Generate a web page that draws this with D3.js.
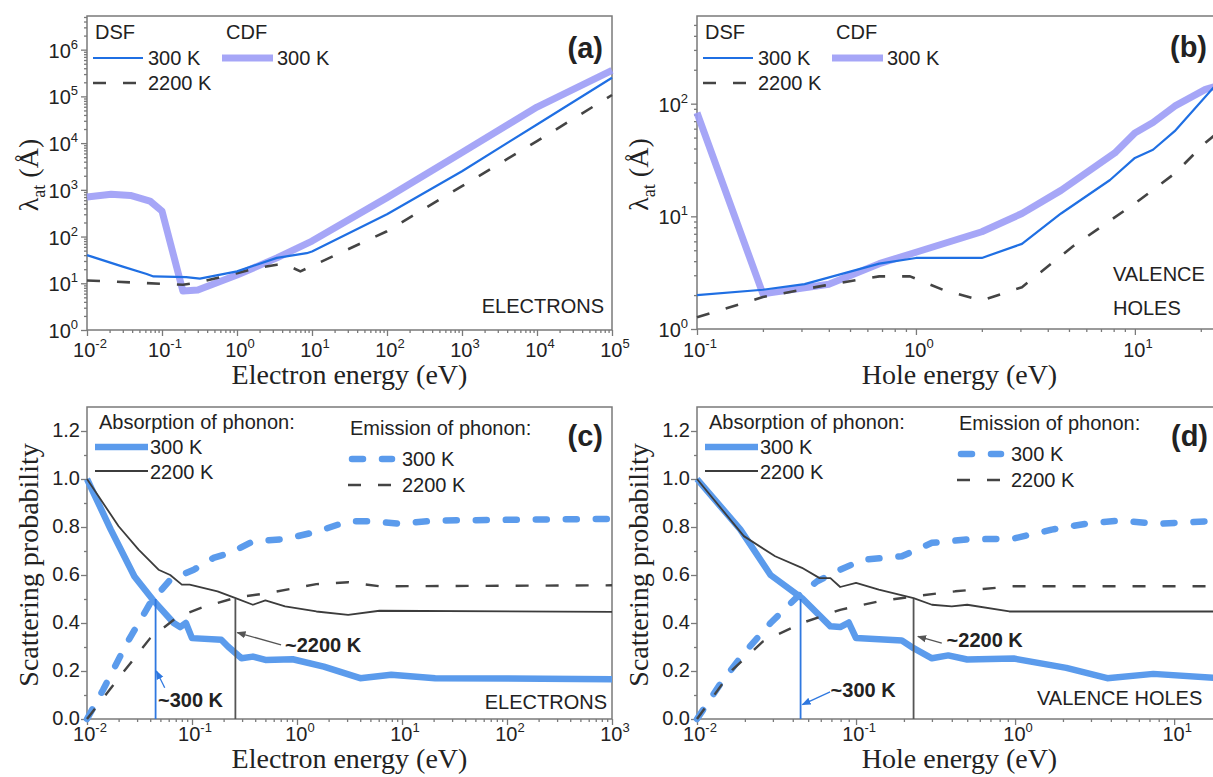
<!DOCTYPE html>
<meta charset="utf-8">
<head>
<style>
  body { margin: 0; background: #fff; }
  text { font-family: "Liberation Sans", Arial, sans-serif; fill: #222; }
  .serif { font-family: "Liberation Serif", "Times New Roman", serif; }
  .frame { fill: none; stroke: #7a7a7a; stroke-width: 1.5; }
  .axis path { display: none; }
  .axis line { stroke: #7a7a7a; stroke-width: 1.3; }
</style>
<title>Mean free paths and scattering probabilities</title>
</head>
<body>
<script src="https://cdn.jsdelivr.net/npm/d3@7"></script>
<script>
// ---------- data (energy in eV) ----------
// (a) electrons, attenuation length lambda_at (A)
const elecDsf300 = [[0.01,40],[0.03,22.7],[0.0625,15.8],[0.077,14],[0.21,13.6],[0.32,12.6],[1,18],[3.4,35],[8.5,44],[10,48],[100,300],[1000,2500],[1e4,2.5e4],[1e5,2.5e5]];
const elecCdf300 = [[0.01,700],[0.021,800],[0.038,760],[0.069,575],[0.1,350],[0.19,6.8],[0.3,7.2],[1,15],[3.4,35],[10,80],[100,680],[1000,6300],[1e4,5.9e4],[1e5,3.6e5]];
const elecDsf2200 = [[0.01,11.5],[0.19,9.3],[0.3,10.3],[1,16.5],[1.8,21],[3.4,25],[4.3,26],[7,18],[100,130],[1000,1200],[1e4,1.1e4],[1e5,1.07e5]];

// (b) valence holes
const holeDsf300 = [[0.1,2.0],[0.2,2.23],[0.31,2.5],[0.68,3.8],[1,4.27],[2,4.27],[3.05,5.7],[4.6,10.6],[7.7,21],[10,33],[12.1,39],[15.2,57],[23,141]];
const holeCdf300 = [[0.1,83],[0.2,2.05],[0.4,2.5],[0.68,3.8],[1,4.8],[2,7.3],[3.05,10.6],[4.6,17],[8.1,36.5],[10,55],[12.1,68],[15.2,95],[21,134],[23,141]];
const holeDsf2200 = [[0.1,1.27],[0.2,1.92],[0.385,2.44],[0.68,2.93],[0.94,2.93],[1.35,2.2],[2,1.79],[3.05,2.35],[5.2,5.4],[10,13],[15.2,24],[21,45],[23,52]];

// (c) electrons, scattering probability
const elecAbs300 = [[0.01,1.0],[0.0168,0.79],[0.0283,0.594],[0.0437,0.49],[0.067,0.40],[0.077,0.383],[0.0875,0.40],[0.1,0.337],[0.19,0.33],[0.22,0.302],[0.296,0.253],[0.38,0.26],[0.5,0.246],[0.91,0.249],[1.8,0.218],[4.0,0.17],[7.9,0.184],[20.7,0.17],[1000,0.166]];
const elecAbs2200 = [[0.01,1.0],[0.02,0.803],[0.031,0.706],[0.048,0.622],[0.062,0.60],[0.08,0.56],[0.095,0.56],[0.175,0.532],[0.26,0.504],[0.38,0.476],[0.5,0.494],[0.77,0.469],[1.53,0.448],[3.07,0.434],[6.1,0.451],[1000,0.446]];
const elecEm300 = [[0.01,0],[0.0142,0.121],[0.024,0.316],[0.04,0.483],[0.062,0.58],[0.104,0.622],[0.16,0.671],[0.23,0.692],[0.38,0.74],[0.77,0.75],[1.53,0.78],[3.07,0.824],[5.2,0.824],[9.5,0.814],[20.7,0.827],[1000,0.834]];
const elecEm2200 = [[0.01,0],[0.02,0.17],[0.04,0.337],[0.0736,0.427],[0.135,0.47],[0.27,0.507],[0.54,0.525],[1.53,0.562],[3.07,0.57],[6.1,0.553],[1000,0.557]];

// (d) valence holes, scattering probability
const holeAbs300 = [[0.01,1.0],[0.0187,0.79],[0.029,0.60],[0.0457,0.504],[0.069,0.386],[0.0795,0.383],[0.09,0.402],[0.1,0.337],[0.194,0.327],[0.23,0.295],[0.30,0.253],[0.38,0.265],[0.5,0.248],[0.98,0.252],[2.1,0.213],[3.8,0.17],[7.4,0.188],[20,0.17]];
const holeAbs2200 = [[0.01,1.0],[0.0197,0.762],[0.031,0.678],[0.0457,0.63],[0.059,0.587],[0.069,0.587],[0.0795,0.55],[0.1,0.567],[0.139,0.539],[0.23,0.504],[0.30,0.476],[0.40,0.469],[0.5,0.476],[0.92,0.448],[20,0.448]];
const holeEm300 = [[0.01,0],[0.0141,0.149],[0.0197,0.274],[0.029,0.40],[0.043,0.511],[0.057,0.574],[0.0795,0.622],[0.111,0.664],[0.194,0.678],[0.30,0.734],[0.5,0.748],[0.98,0.752],[1.7,0.789],[3.0,0.817],[4.66,0.827],[7.7,0.813],[20,0.827]];
const holeEm2200 = [[0.01,0],[0.0167,0.205],[0.026,0.323],[0.0457,0.40],[0.0795,0.455],[0.139,0.49],[0.23,0.511],[0.42,0.532],[0.98,0.553],[3.0,0.553],[20,0.553]];

// crossing energies marked by the vertical lines
const elecCross = { t300: 0.045, t2200: 0.259, p: 0.5 };
const holeCross = { t300: 0.0448, t2200: 0.23, p: 0.5 };

// tick values
const ticksXa = [1e-2,1e-1,1e0,1e1,1e2,1e3,1e4,1e5];
const ticksYa = [1e0,1e1,1e2,1e3,1e4,1e5,1e6];
const ticksXb = [1e-1,1e0,1e1];
const ticksYb = [1e0,1e1,1e2];
const ticksXc = [1e-2,1e-1,1e0,1e1,1e2,1e3];
const ticksXd = [1e-2,1e-1,1e0,1e1];
const ticksP = [0,0.2,0.4,0.6,0.8,1.0,1.2];
const minorP = [0.1,0.3,0.5,0.7,0.9,1.1];

// ---------- styles ----------
const st = {
  dsf:   { stroke: '#1f6fe3', width: 2.2 },
  cdf:   { stroke: '#9c9cf6', width: 7, opacity: 0.9 },
  hot:   { stroke: '#444', width: 2.6, dash: '13,17' },
  abs300:{ stroke: '#5b9bec', width: 6.5 },
  abs2200:{ stroke: '#3c3c3c', width: 1.8 },
  em300: { stroke: '#5b9bec', width: 6.5, dash: '11,19', cap: 'round' },
  em2200:{ stroke: '#444', width: 2.4, dash: '13,17' }
};

const svg = d3.select('body').append('svg').attr('width', 1213).attr('height', 777);
svg.append('defs').selectAll('marker')
  .data([['arrBlue','#2f78e0'],['arrGray','#555']])
  .join('marker')
    .attr('id', d => d[0])
    .attr('viewBox','0 0 10 10').attr('refX',9).attr('refY',5)
    .attr('markerWidth',7).attr('markerHeight',7).attr('orient','auto')
  .append('path').attr('d','M0,1 L10,5 L0,9 Z').attr('fill', d => d[1]);

function minorLog(domain) {
  const out = [];
  const lo = Math.floor(Math.log10(domain[0])), hi = Math.ceil(Math.log10(domain[1]));
  for (let e = lo; e <= hi; e++)
    for (let k = 2; k < 10; k++) {
      const v = k * Math.pow(10, e);
      if (v > domain[0] && v < domain[1]) out.push(v);
    }
  return out;
}

function powLabel(g, x, y, v, anchor) {
  const t = g.append('text').attr('x', x).attr('y', y)
    .attr('text-anchor', anchor).style('font-size', '20px').attr('fill', '#333');
  t.append('tspan').text('10');
  t.append('tspan').attr('dy', -9).style('font-size', '13px').text(Math.round(Math.log10(v)));
}

function addLine(g, x, y, data, s) {
  g.append('path')
    .datum(data)
    .attr('fill', 'none')
    .attr('stroke', s.stroke)
    .attr('stroke-width', s.width)
    .attr('stroke-opacity', s.opacity || 1)
    .attr('stroke-dasharray', s.dash || null)
    .attr('stroke-linecap', s.cap || 'butt')
    .attr('stroke-linejoin', 'round')
    .attr('d', d3.line().x(d => x(d[0])).y(d => y(d[1])));
}

function legendLine(g, x1, x2, yy, s) {
  g.append('line').attr('x1', x1).attr('x2', x2).attr('y1', yy).attr('y2', yy)
    .attr('stroke', s.stroke).attr('stroke-width', s.width)
    .attr('stroke-opacity', s.opacity || 1)
    .attr('stroke-dasharray', s.dash || null)
    .attr('stroke-linecap', s.cap || 'butt');
}

function text(g, x, y, str, size, opts) {
  opts = opts || {};
  return g.append('text').attr('x', x).attr('y', y).text(str)
    .style('font-size', size + 'px')
    .attr('text-anchor', opts.anchor || 'start')
    .style('font-weight', opts.bold ? 'bold' : null)
    .attr('fill', opts.fill || '#222');
}

function makePanel(p) {
  const g = svg.append('g');
  const x = d3.scaleLog().domain(p.xDomain).range([p.left, p.right]);
  const y = (p.yLog ? d3.scaleLog() : d3.scaleLinear()).domain(p.yDomain).range([p.bottom, p.top]);

  // ticks
  g.append('g').attr('class', 'axis').attr('transform', `translate(0,${p.bottom})`)
    .call(d3.axisBottom(x).tickValues(p.xTicks).tickSize(6).tickFormat(''));
  g.append('g').attr('class', 'axis').attr('transform', `translate(0,${p.bottom})`)
    .call(d3.axisBottom(x).tickValues(minorLog(p.xDomain)).tickSize(3).tickFormat(''));
  g.append('g').attr('class', 'axis').attr('transform', `translate(${p.left},0)`)
    .call(d3.axisLeft(y).tickValues(p.yTicks).tickSize(6).tickFormat(''));
  g.append('g').attr('class', 'axis').attr('transform', `translate(${p.left},0)`)
    .call(d3.axisLeft(y).tickValues(p.yLog ? minorLog(p.yDomain) : minorP).tickSize(3).tickFormat(''));

  p.xTicks.forEach(v => powLabel(g, x(v) + 3, p.xLabelY, v, 'middle'));
  if (p.yLog) p.yTicks.forEach(v => powLabel(g, p.left - 9, y(v) + 8, v, 'end'));
  else p.yTicks.forEach(v => text(g, p.left - 7, y(v) + 6, d3.format('.1f')(v), 20, { anchor: 'end', fill: '#333' }));

  g.append('rect').attr('class', 'frame')
    .attr('x', p.left).attr('y', p.top)
    .attr('width', p.right - p.left).attr('height', p.bottom - p.top);

  // axis titles
  g.append('text').attr('class', 'serif')
    .attr('x', (p.left + p.right) / 2).attr('y', p.titleY)
    .attr('text-anchor', 'middle').style('font-size', '28px').text(p.xTitle);
  const yt = g.append('text').attr('class', 'serif')
    .attr('transform', `translate(${p.left - 49},${(p.top + p.bottom) / 2 + 2}) rotate(-90)`)
    .attr('text-anchor', 'middle').style('font-size', '28px');
  if (p.yLog) {
    yt.append('tspan').text('\u03bb');
    yt.append('tspan').attr('dy', 7).style('font-size', '18px').text('at');
    yt.append('tspan').attr('dy', -7).text(' (\u00c5)');
  } else yt.text('Scattering probability');

  return { g, x, y };
}

// ---------- panel (a) ----------
{
  const p = { left: 87, right: 612, top: 16, bottom: 330, xDomain: [1e-2, 1e5], yDomain: [1, 5.25e6], yLog: true,
    xTicks: ticksXa, yTicks: ticksYa, xLabelY: 357, titleY: 384, xTitle: 'Electron energy (eV)' };
  const { g, x, y } = makePanel(p);
  addLine(g, x, y, elecCdf300, st.cdf);
  addLine(g, x, y, elecDsf2200, st.hot);
  addLine(g, x, y, elecDsf300, st.dsf);
  text(g, 95, 39, 'DSF', 20);
  legendLine(g, 93, 143, 58, st.dsf); text(g, 148, 65, '300 K', 20);
  legendLine(g, 93, 143, 83, st.hot); text(g, 148, 90, '2200 K', 20);
  text(g, 226, 39, 'CDF', 20);
  legendLine(g, 222, 273, 58, st.cdf); text(g, 277, 65, '300 K', 20);
  text(g, 603, 58, '(a)', 29, { anchor: 'end', bold: true });
  text(g, 604, 313, 'ELECTRONS', 20, { anchor: 'end' });
}

// ---------- panel (b) ----------
{
  const p = { left: 697, right: 1222, top: 16, bottom: 329, xDomain: [0.1, 25], yDomain: [1, 600], yLog: true,
    xTicks: ticksXb, yTicks: ticksYb, xLabelY: 357, titleY: 384, xTitle: 'Hole energy (eV)' };
  const { g, x, y } = makePanel(p);
  addLine(g, x, y, holeCdf300, st.cdf);
  addLine(g, x, y, holeDsf2200, st.hot);
  addLine(g, x, y, holeDsf300, st.dsf);
  const L = p.left;
  text(g, L + 8, 39, 'DSF', 20);
  legendLine(g, L + 6, L + 56, 58, st.dsf); text(g, L + 61, 65, '300 K', 20);
  legendLine(g, L + 6, L + 56, 83, st.hot); text(g, L + 61, 90, '2200 K', 20);
  text(g, L + 139, 39, 'CDF', 20);
  legendLine(g, L + 135, L + 186, 58, st.cdf); text(g, L + 190, 65, '300 K', 20);
  text(g, 1170, 57, '(b)', 29, { bold: true });
  text(g, 1113, 281, 'VALENCE', 20);
  text(g, 1113, 315, 'HOLES', 20);
}

function probPanel(p, abs300, abs2200, em300, em2200, cross, ann) {
  const { g, x, y } = makePanel(p);
  addLine(g, x, y, em300, st.em300);
  addLine(g, x, y, abs300, st.abs300);
  addLine(g, x, y, em2200, st.em2200);
  addLine(g, x, y, abs2200, st.abs2200);
  // vertical markers at the crossings
  g.append('line').attr('x1', x(cross.t300)).attr('x2', x(cross.t300))
    .attr('y1', y(0)).attr('y2', y(cross.p)).attr('stroke', '#2f78e0').attr('stroke-width', 1.8);
  g.append('line').attr('x1', x(cross.t2200)).attr('x2', x(cross.t2200))
    .attr('y1', y(0)).attr('y2', y(cross.p)).attr('stroke', '#555').attr('stroke-width', 1.8);
  // annotations
  g.append('line').attr('x1', x(ann.a300[0][0])).attr('y1', y(ann.a300[0][1]))
    .attr('x2', x(ann.a300[1][0])).attr('y2', y(ann.a300[1][1]))
    .attr('stroke', '#2f78e0').attr('stroke-width', 1.3).attr('marker-end', 'url(#arrBlue)');
  text(g, x(ann.t300[0]), y(ann.t300[1]), '~300 K', 20, { bold: true, fill: '#2f78e0' });
  g.append('line').attr('x1', x(ann.a2200[0][0])).attr('y1', y(ann.a2200[0][1]))
    .attr('x2', x(ann.a2200[1][0])).attr('y2', y(ann.a2200[1][1]))
    .attr('stroke', '#555').attr('stroke-width', 1.3).attr('marker-end', 'url(#arrGray)');
  text(g, x(ann.t2200[0]), y(ann.t2200[1]), '~2200 K', 20, { bold: true, fill: '#555' });

  const L = p.left;
  text(g, L + 12, p.legTop, 'Absorption of phonon:', 20);
  legendLine(g, L + 8, L + 61, p.legTop + 18, st.abs300); text(g, L + 63, p.legTop + 25, '300 K', 20);
  legendLine(g, L + 8, L + 61, p.legTop + 42, st.abs2200); text(g, L + 63, p.legTop + 50, '2200 K', 20);
  text(g, L + p.emX, p.emTop, 'Emission of phonon:', 20);
  legendLine(g, L + p.emX + 2, L + p.emX + 42, p.emTop + 24, st.em300); text(g, L + p.emX + 52, p.emTop + 31, '300 K', 20);
  legendLine(g, L + p.emX - 2, L + p.emX + 42, p.emTop + 50, st.em2200); text(g, L + p.emX + 52, p.emTop + 57, '2200 K', 20);
  return g;
}

// ---------- panel (c) ----------
{
  const p = { left: 87, right: 612, top: 407, bottom: 719, xDomain: [1e-2, 1e3], yDomain: [0, 1.3], yLog: false,
    xTicks: ticksXc, yTicks: ticksP, xLabelY: 741, titleY: 768, xTitle: 'Electron energy (eV)',
    legTop: 429, emX: 263, emTop: 435 };
  const g = probPanel(p, elecAbs300, elecAbs2200, elecEm300, elecEm2200, elecCross, {
    a300: [[0.055, 0.13], [0.0458, 0.2]], t300: [0.0474, 0.05],
    a2200: [[0.705, 0.309], [0.27, 0.36]], t2200: [0.769, 0.28]
  });
  text(g, 603, 446, '(c)', 29, { anchor: 'end', bold: true });
  text(g, 607, 709, 'ELECTRONS', 20, { anchor: 'end' });
}

// ---------- panel (d) ----------
{
  const p = { left: 697, right: 1222, top: 407, bottom: 719, xDomain: [1e-2, 20], yDomain: [0, 1.3], yLog: false,
    xTicks: ticksXd, yTicks: ticksP, xLabelY: 741, titleY: 768, xTitle: 'Hole energy (eV)',
    legTop: 429, emX: 262, emTop: 430 };
  const g = probPanel(p, holeAbs300, holeAbs2200, holeEm300, holeEm2200, holeCross, {
    a300: [[0.0687, 0.113], [0.046, 0.06]], t300: [0.0692, 0.092],
    a2200: [[0.346, 0.316], [0.245, 0.344]], t2200: [0.371, 0.298]
  });
  text(g, 1171, 446, '(d)', 29, { bold: true });
  text(g, 1037, 705, 'VALENCE HOLES', 20);
}
</script>
</body>
